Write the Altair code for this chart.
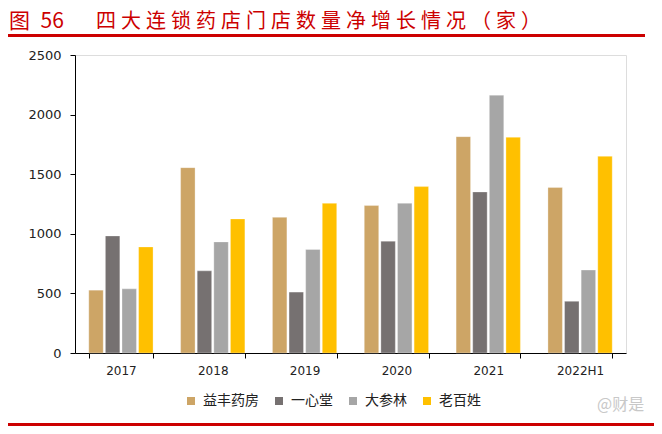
import altair as alt
import pandas as pd

years = ["2017", "2018", "2019", "2020", "2021", "2022H1"]
companies = ["益丰药房", "一心堂", "大参林", "老百姓"]
yifeng = [527, 1555, 1138, 1237, 1815, 1388]
yixintang = [982, 689, 511, 938, 1351, 434]
dashenlin = [538, 932, 868, 1256, 2163, 696]
laobaixing = [890, 1125, 1256, 1396, 1810, 1650]
colors = ["#CDA566", "#767171", "#A6A6A6", "#FFC000"]
yticks = [0, 500, 1000, 1500, 2000, 2500]
title_prefix = "图\u200256"
title_main = "四大连锁药店门店数量净增长情况（家）"
watermark = "@财是"

series = [yifeng, yixintang, dashenlin, laobaixing]
rows = []
for c, vals in zip(companies, series):
    for y, v in zip(years, vals):
        rows.append({"year": y, "company": c, "value": v})
df = pd.DataFrame(rows)

RED = "#CC0000"
SP = "\u2005"

bars = alt.Chart(df).mark_bar(stroke="#ffffff", strokeWidth=0.5, strokeOpacity=0.6).encode(
    x=alt.X("year:N", sort=years,
            scale=alt.Scale(paddingInner=0.3, paddingOuter=0.15),
            axis=alt.Axis(title=None, labelAngle=0, tickBand="extent",
                          domainColor="#000000", tickColor="#000000", tickSize=5,
                          labelPadding=7, labelFont="DejaVu Sans", labelFontSize=12,
                          labelColor="#222222")),
    xOffset=alt.XOffset("company:N", sort=companies,
                        scale=alt.Scale(paddingInner=0.13, paddingOuter=0)),
    y=alt.Y("value:Q", scale=alt.Scale(domain=[0, 2500], nice=False),
            axis=alt.Axis(title=None, values=yticks, grid=False, format="d",
                          domainColor="#000000", tickColor="#000000", tickSize=5,
                          labelPadding=9, labelFont="DejaVu Sans", labelFontSize=13,
                          labelColor="#222222")),
    color=alt.Color("company:N", sort=companies,
                    scale=alt.Scale(domain=companies, range=colors),
                    legend=alt.Legend(title=None, orient="none", direction="horizontal",
                                      legendX=109, legendY=339, symbolType="square",
                                      symbolSize=64, symbolStrokeWidth=0,
                                      labelFont="Noto Sans CJK SC", labelFontSize=14,
                                      labelColor="#222222", labelOffset=5,
                                      columnPadding=13, padding=0)),
)

one = pd.DataFrame({"a": [0]})

rule_top = alt.Chart(one).mark_rule(color=RED, strokeWidth=3).encode(
    x=alt.value(-67), x2=alt.value(570), y=alt.value(-19.5))
rule_bot = alt.Chart(one).mark_rule(color=RED, strokeWidth=4).encode(
    x=alt.value(-67), x2=alt.value(600), y=alt.value(370))

t1 = alt.Chart(pd.DataFrame({"t": [title_prefix]})).mark_text(
    align="left", baseline="alphabetic", font="Noto Sans CJK SC", fontSize=21,
    color=RED).encode(text="t:N", x=alt.value(-66), y=alt.value(-27))
t2 = alt.Chart(pd.DataFrame({"t": [SP.join(title_main)]})).mark_text(
    align="left", baseline="alphabetic", font="Noto Sans CJK SC", fontSize=20,
    color=RED).encode(text="t:N", x=alt.value(21), y=alt.value(-27))
wm = alt.Chart(pd.DataFrame({"t": [watermark]})).mark_text(
    align="left", baseline="middle", font="Noto Sans CJK SC", fontSize=16,
    color="#C8C8C8").encode(text="t:N", x=alt.value(522), y=alt.value(350))

chart = alt.layer(bars, rule_top, rule_bot, t1, t2, wm).properties(
    width=551, height=298,
    autosize=alt.AutoSizeParams(type="none"),
    padding={"left": 67, "top": 47, "right": 28, "bottom": 73},
).configure_view(stroke=None).configure(background="#ffffff")

chart.save("out.html", embed_options={"renderer": "svg", "actions": False})
